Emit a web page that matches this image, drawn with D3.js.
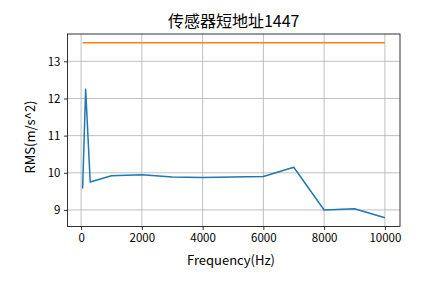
<!DOCTYPE html>
<html>
<head>
<meta charset="utf-8">
<script src="https://cdn.jsdelivr.net/npm/d3@7"></script>
<style>
  body { margin: 0; background: #fff; }
  text { font-family: "Noto Sans CJK SC", "DejaVu Sans", sans-serif; }
</style>
</head>
<body>
<svg id="chart" width="444" height="283"></svg>
<script>
// data
var freqs = [50, 150, 300, 1000, 2000, 3000, 4000, 5000, 6000, 7000, 8000, 9000, 10000];
var rmsValues = [9.58, 12.25, 9.75, 9.92, 9.95, 9.89, 9.87, 9.89, 9.9, 10.15, 9.0, 9.03, 8.79];
var limitFreqs = [50, 10000];
var limitValues = [13.5, 13.5];
var xTicks = [0, 2000, 4000, 6000, 8000, 10000];
var yTicks = [9, 10, 11, 12, 13];

var svg = d3.select('#chart');
var plotLeft = 67.5, plotRight = 400, plotTop = 34, plotBottom = 226.5;

var x = d3.scaleLinear().domain([-447.5, 10497.5]).range([plotLeft, plotRight]);
var y = d3.scaleLinear().domain([8.5545, 13.7355]).range([plotBottom, plotTop]);

// grid
var grid = svg.append('g');
xTicks.forEach(function(t) {
  grid.append('line')
    .attr('x1', x(t)).attr('x2', x(t))
    .attr('y1', plotTop).attr('y2', plotBottom)
    .attr('stroke', '#b0b0b0').attr('stroke-width', 0.8);
});
yTicks.forEach(function(t) {
  grid.append('line')
    .attr('x1', plotLeft).attr('x2', plotRight)
    .attr('y1', y(t)).attr('y2', y(t))
    .attr('stroke', '#b0b0b0').attr('stroke-width', 0.8);
});

var line = d3.line()
  .x(function(d) { return x(d[0]); })
  .y(function(d) { return y(d[1]); });

svg.append('path')
  .datum(d3.zip(freqs, rmsValues))
  .attr('d', line)
  .attr('fill', 'none')
  .attr('stroke', '#1f77b4')
  .attr('stroke-width', 1.5)
  .attr('stroke-linejoin', 'round');

svg.append('path')
  .datum(d3.zip(limitFreqs, limitValues))
  .attr('d', line)
  .attr('fill', 'none')
  .attr('stroke', '#ff7f0e')
  .attr('stroke-width', 1.5);

// axes
var xAxis = d3.axisBottom(x).tickValues(xTicks).tickSize(3.5).tickPadding(3.5).tickFormat(d3.format('d'));
var yAxis = d3.axisLeft(y).tickValues(yTicks).tickSize(3.5).tickPadding(3.5).tickFormat(d3.format('d'));

var gx = svg.append('g').attr('transform', 'translate(0,' + plotBottom + ')').call(xAxis);
var gy = svg.append('g').attr('transform', 'translate(' + plotLeft + ',0)').call(yAxis);
[gx, gy].forEach(function(g) {
  g.select('.domain').remove();
  g.selectAll('.tick line').attr('stroke', '#000').attr('stroke-width', 0.8);
  g.selectAll('.tick text').attr('fill', '#000')
    .style('font-family', '"Noto Sans CJK SC", sans-serif')
    .style('font-size', '11.5px');
});

// frame
svg.append('rect')
  .attr('x', plotLeft).attr('y', plotTop)
  .attr('width', plotRight - plotLeft).attr('height', plotBottom - plotTop)
  .attr('fill', 'none').attr('stroke', '#000').attr('stroke-width', 0.8);

svg.append('text')
  .attr('x', (plotLeft + plotRight) / 2).attr('y', 27)
  .attr('text-anchor', 'middle')
  .style('font-size', '16px')
  .text('传感器短地址1447');

svg.append('text')
  .attr('x', 231).attr('y', 265)
  .attr('text-anchor', 'middle')
  .style('font-size', '13px')
  .text('Frequency(Hz)');

svg.append('text')
  .attr('transform', 'translate(35,137) rotate(-90)')
  .attr('text-anchor', 'middle')
  .style('font-size', '13px')
  .text('RMS(m/s^2)');
</script>
</body>
</html>
